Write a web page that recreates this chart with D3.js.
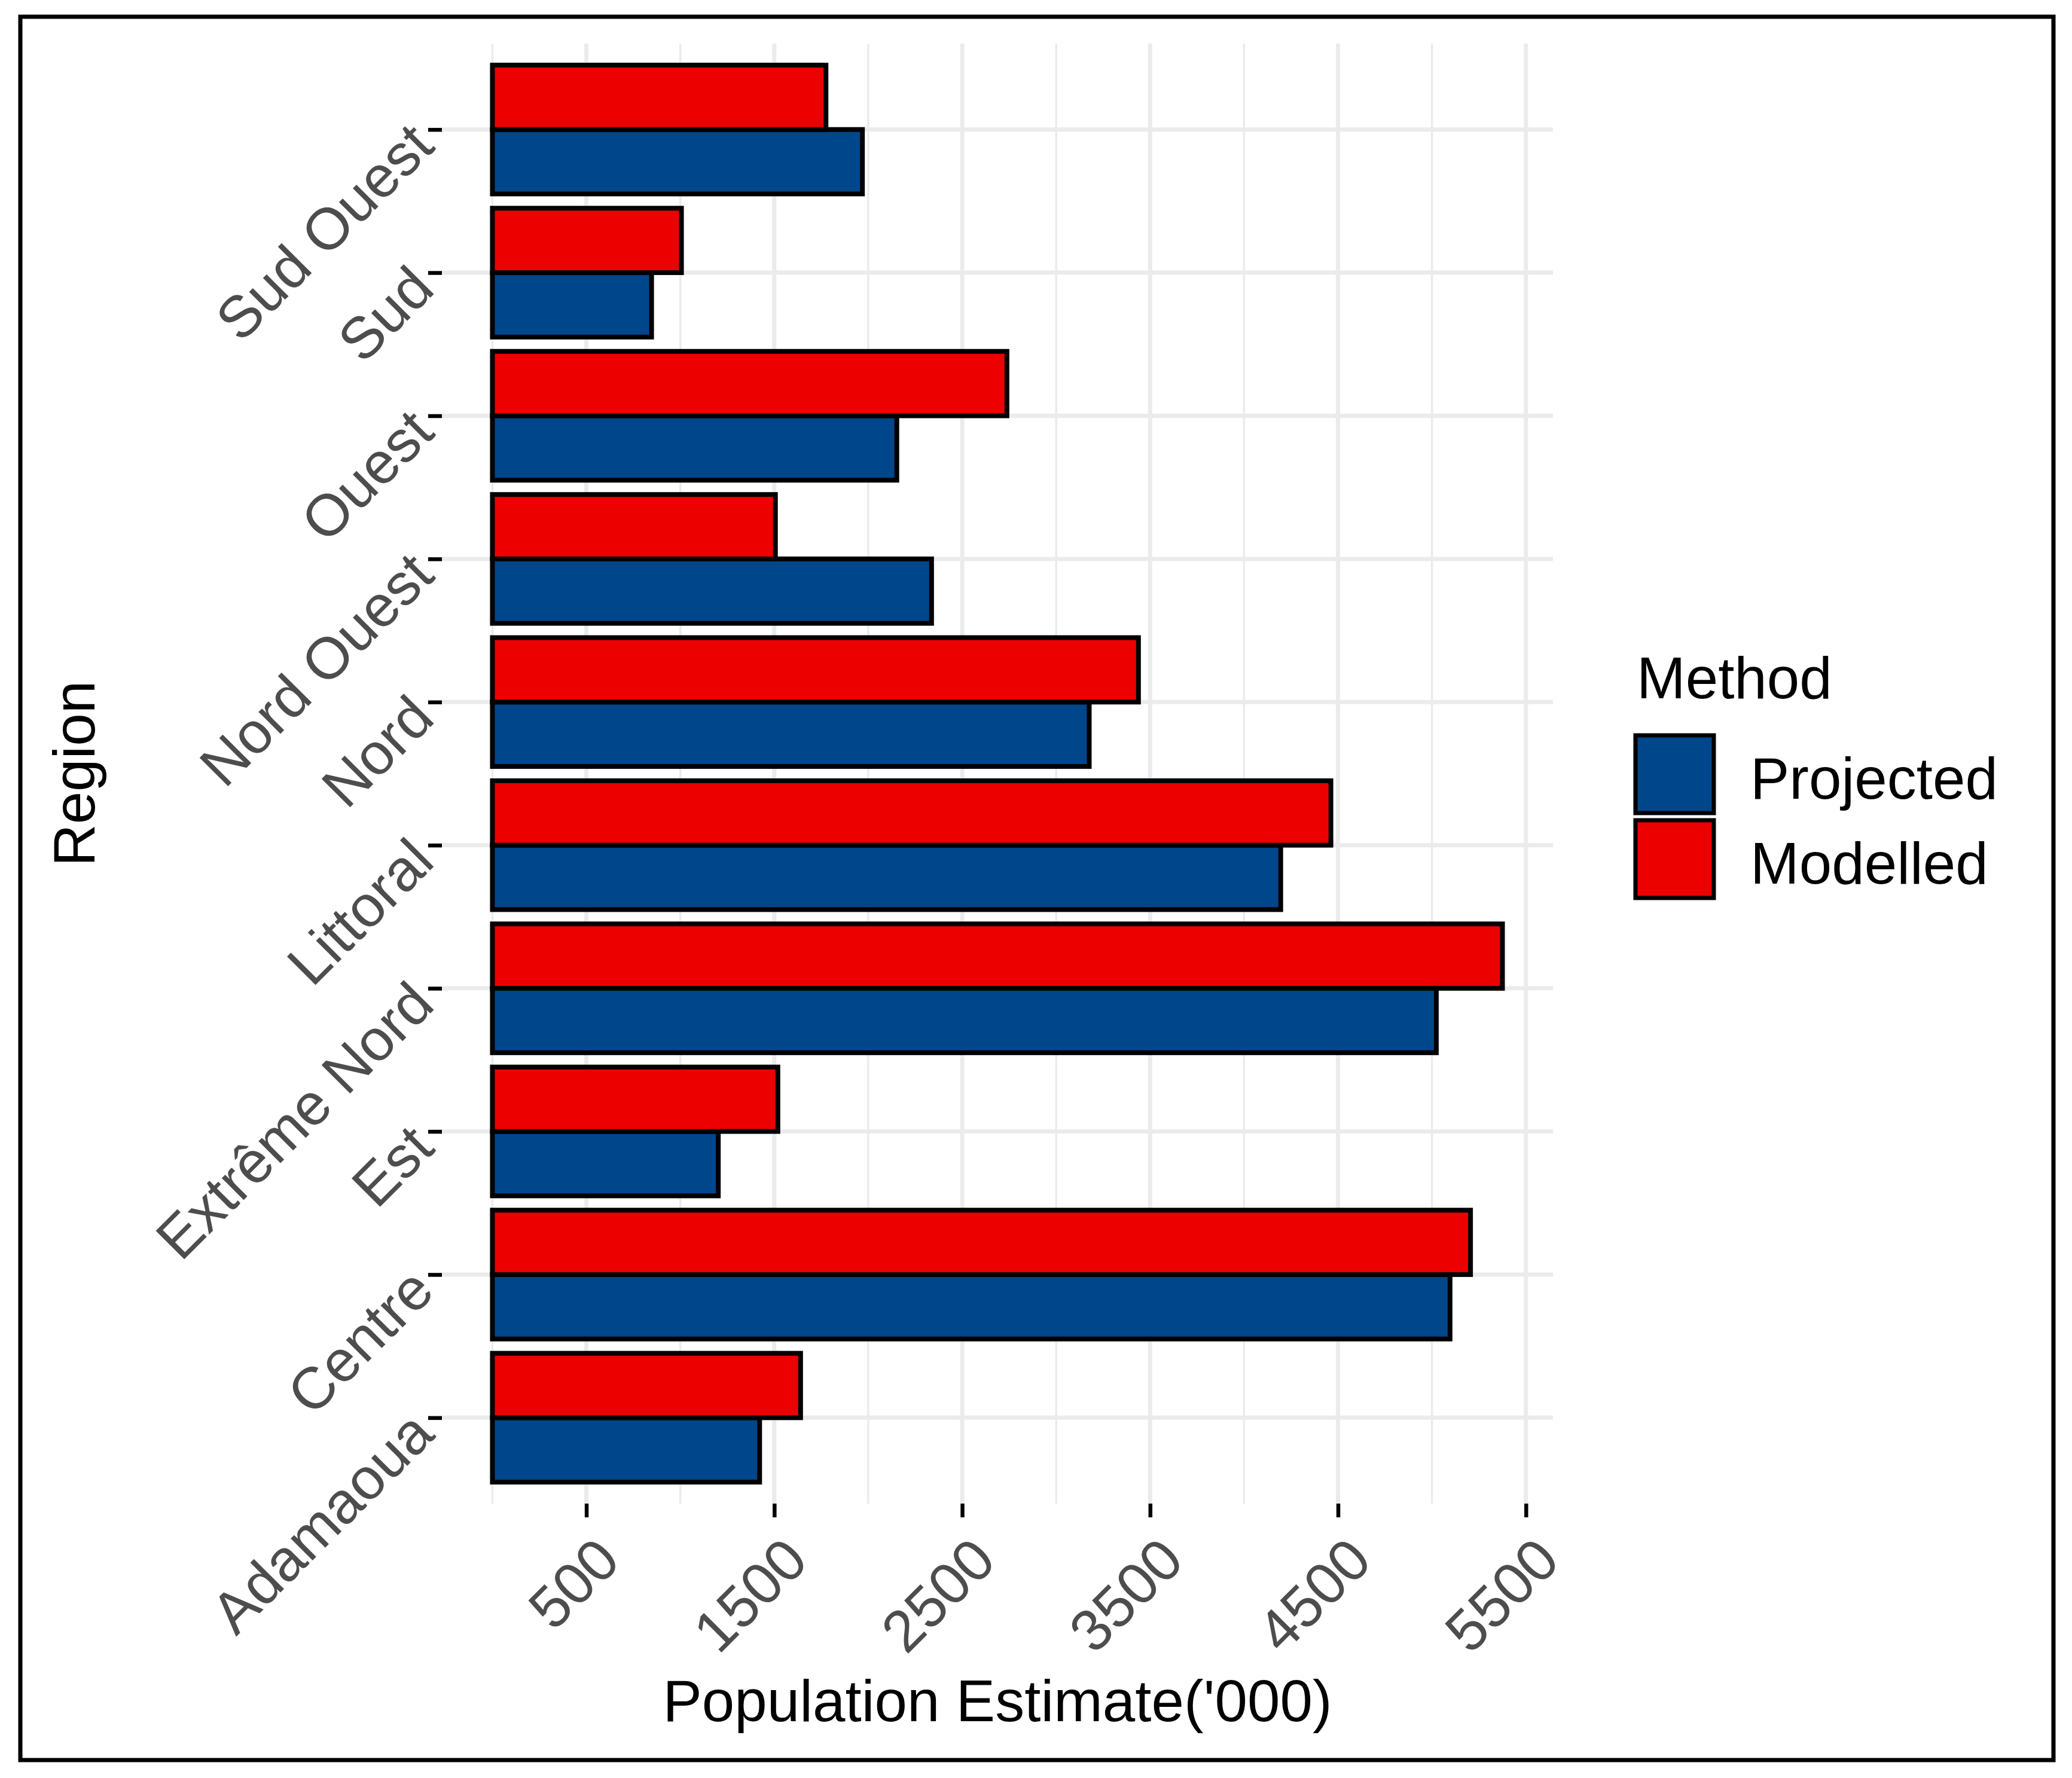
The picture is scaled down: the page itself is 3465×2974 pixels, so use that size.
<!DOCTYPE html>
<html lang="en">
<meta charset="utf-8">
<head>
  <script src="https://d3js.org/d3.v7.min.js"></script>
  <style>
    body { margin: 0; background: white; }
    text { font-family: "Liberation Sans", Arial, sans-serif; }
  </style>
</head>
<body>
<div id="chart"></div>
<script>
// values, in thousands
var regions   = ["Adamaoua", "Centre", "Est", "Extrême Nord", "Littoral", "Nord", "Nord Ouest", "Ouest", "Sud", "Sud Ouest"];
var projected = [1422, 5096, 1202, 5023, 4195, 3176, 2337, 2152, 847, 1969];
var modelled  = [1640, 5205, 1519, 5375, 4462, 3438, 1506, 2738, 1006, 1775];
var methods   = ["Projected", "Modelled"];
var colors    = ["#00468B", "#ED0000"];
var xTicks    = [500, 1500, 2500, 3500, 4500, 5500];
var xMinor    = [0, 1000, 2000, 3000, 4000, 5000];

var W = 3465, H = 2974;
var panel = {left: 739, right: 2597, top: 73, bottom: 2515};
var fontSize = 98;

var svg = d3.select("#chart")
  .append("svg")
    .attr("width", W)
    .attr("height", H);

svg.append("rect")
  .attr("x", 0).attr("y", 0).attr("width", W).attr("height", H)
  .attr("fill", "white");

// outer border
svg.append("rect")
  .attr("x", 34).attr("y", 28)
  .attr("width", 3400).attr("height", 2916)
  .attr("fill", "none")
  .attr("stroke", "black")
  .attr("stroke-width", 7);

// ggplot style 5% expansion of [0, max]
var xMax = d3.max(projected.concat(modelled));
var pad = xMax * 0.05;
var x = d3.scaleLinear().domain([-pad, xMax + pad]).range([panel.left, panel.right]);

var y = d3.scalePoint().domain(regions).range([panel.bottom, panel.top]).padding(0.6);
var step = y.step();
var dodge = d3.scaleBand().domain(["Modelled", "Projected"]).range([-0.45 * step, 0.45 * step]);

var grid = svg.append("g");
grid.selectAll(".minor").data(xMinor).enter()
  .append("line")
    .attr("x1", d => x(d)).attr("x2", d => x(d))
    .attr("y1", panel.top).attr("y2", panel.bottom)
    .attr("stroke", "#EBEBEB").attr("stroke-width", 3.5);
grid.selectAll(".major").data(xTicks).enter()
  .append("line")
    .attr("x1", d => x(d)).attr("x2", d => x(d))
    .attr("y1", panel.top).attr("y2", panel.bottom)
    .attr("stroke", "#EBEBEB").attr("stroke-width", 7);
grid.selectAll(".hmajor").data(regions).enter()
  .append("line")
    .attr("x1", panel.left).attr("x2", panel.right)
    .attr("y1", d => y(d)).attr("y2", d => y(d))
    .attr("stroke", "#EBEBEB").attr("stroke-width", 7);

// bars
var rows = [];
regions.forEach(function(r, i) {
  rows.push({region: r, method: "Projected", val: projected[i]});
  rows.push({region: r, method: "Modelled", val: modelled[i]});
});

svg.append("g").selectAll("rect").data(rows).enter()
  .append("rect")
    .attr("x", x(0))
    .attr("y", d => y(d.region) + dodge(d.method))
    .attr("width", d => x(d.val) - x(0))
    .attr("height", dodge.bandwidth())
    .attr("fill", d => colors[methods.indexOf(d.method)])
    .attr("stroke", "black")
    .attr("stroke-width", 8);

// y axis
var yAxis = svg.append("g")
  .attr("transform", `translate(${panel.left},0)`)
  .call(d3.axisLeft(y).tickSize(23).tickPadding(0));
yAxis.select(".domain").remove();
yAxis.selectAll(".tick line").attr("stroke", "black").attr("stroke-width", 6.5);
yAxis.selectAll(".tick text")
  .attr("x", null).attr("dy", null)
  .attr("transform", "translate(-9,31) rotate(-45)")
  .attr("text-anchor", "end")
  .attr("fill", "#4D4D4D")
  .style("font-size", fontSize + "px")
  .style("font-family", '"Liberation Sans", Arial, sans-serif');

// x axis
var xAxis = svg.append("g")
  .attr("transform", `translate(0,${panel.bottom})`)
  .call(d3.axisBottom(x).tickValues(xTicks).tickFormat(d3.format("d")).tickSize(23).tickPadding(0));
xAxis.select(".domain").remove();
xAxis.selectAll(".tick line").attr("stroke", "black").attr("stroke-width", 6.5);
xAxis.selectAll(".tick text")
  .attr("y", null).attr("dy", null)
  .attr("transform", "translate(60,100) rotate(-45)")
  .attr("text-anchor", "end")
  .attr("fill", "#4D4D4D")
  .style("font-size", fontSize + "px")
  .style("font-family", '"Liberation Sans", Arial, sans-serif');

// axis titles
svg.append("text")
  .attr("x", (panel.left + panel.right) / 2)
  .attr("y", 2879)
  .attr("text-anchor", "middle")
  .attr("fill", "black")
  .style("font-size", fontSize + "px")
  .text("Population Estimate('000)");

svg.append("text")
  .attr("transform", `translate(158,${(panel.top + panel.bottom) / 2}) rotate(-90)`)
  .attr("text-anchor", "middle")
  .attr("fill", "black")
  .style("font-size", fontSize + "px")
  .text("Region");

// legend
var legend = svg.append("g").attr("transform", "translate(2735,1168)");
legend.append("text")
  .attr("x", 2).attr("y", 0)
  .attr("fill", "black")
  .style("font-size", fontSize + "px")
  .text("Method");

var keys = legend.selectAll(".key").data(methods).enter()
  .append("g")
    .attr("transform", (d, i) => `translate(0,${62 + i * 142})`);
keys.append("rect")
  .attr("width", 131).attr("height", 130)
  .attr("fill", (d, i) => colors[i])
  .attr("stroke", "black")
  .attr("stroke-width", 7);
keys.append("text")
  .attr("x", 192).attr("y", 106)
  .attr("fill", "black")
  .style("font-size", fontSize + "px")
  .text(d => d);
</script>
</body>
</html>
